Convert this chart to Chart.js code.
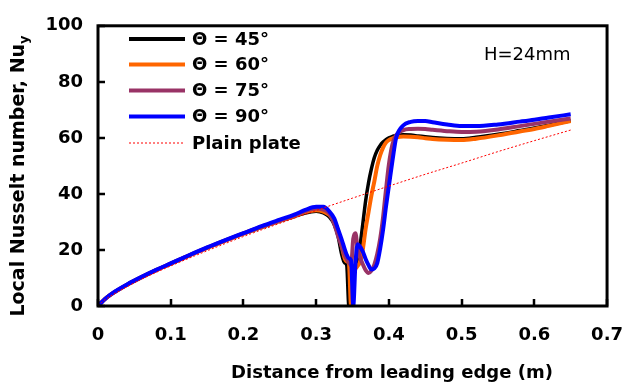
<!DOCTYPE html>
<html><head><meta charset="utf-8">
<script src="https://cdn.jsdelivr.net/npm/chart.js@4.4.1/dist/chart.umd.min.js"></script>
<style>html,body{margin:0;padding:0;background:#fff;}#wrap{width:642px;height:385px;position:relative;}</style>
</head><body>
<div id="wrap"><canvas id="c" width="642" height="385"></canvas></div>
<script>
// ---- data ----
const xTickValues = [0, 0.1, 0.2, 0.3, 0.4, 0.5, 0.6, 0.7];
const yTickValues = [0, 20, 40, 60, 80, 100];

const xGrid = [0, 0.01, 0.02, 0.04, 0.06, 0.08, 0.1, 0.125, 0.15, 0.175, 0.2, 0.225, 0.25, 0.27, 0.285,
  0.3, 0.31, 0.318, 0.325, 0.33, 0.335, 0.339, 0.342, 0.345, 0.348, 0.351, 0.354, 0.357, 0.36, 0.364,
  0.368, 0.372, 0.376, 0.38, 0.384, 0.388, 0.392, 0.396, 0.4, 0.405, 0.41, 0.42, 0.43, 0.44, 0.45,
  0.46, 0.48, 0.5, 0.52, 0.55, 0.58, 0.6, 0.62, 0.65];

const nu45 = [0, 2.6, 4.5, 7.6, 10.3, 12.8, 15.1, 18.0, 20.7, 23.3, 25.8, 28.1, 30.3, 31.9, 33.2,
  33.8, 33.2, 31.8, 29.0, 25.0, 18.5, 15.4, 14.6, 0, 12.0, 13.2, 14.6, 16.8, 21.0, 29.0,
  37.5, 44.0, 49.0, 53.0, 55.6, 57.3, 58.5, 59.4, 60.0, 60.5, 60.9, 61.1, 61.0, 60.7, 60.4,
  60.1, 59.8, 59.7, 60.2, 61.3, 62.6, 63.5, 64.5, 66.1];

const nu60 = [0, 2.6, 4.5, 7.6, 10.3, 12.8, 15.1, 18.0, 20.7, 23.3, 25.8, 28.2, 30.4, 32.1, 33.5,
  34.2, 33.7, 32.5, 30.0, 27.0, 21.5, 17.2, 15.9, 15.2, 0, 12.5, 13.4, 14.3, 15.5, 20.0,
  27.5, 33.5, 39.5, 44.5, 50.0, 53.8, 56.5, 58.3, 59.2, 59.8, 60.2, 60.5, 60.4, 60.2, 59.9,
  59.6, 59.3, 59.2, 59.7, 60.9, 62.3, 63.2, 64.3, 66.0];

const nu75 = [0, 2.6, 4.5, 7.6, 10.3, 12.8, 15.1, 18.0, 20.8, 23.4, 25.9, 28.3, 30.5, 32.3, 33.9,
  34.8, 34.4, 33.0, 29.2, 25.0, 21.4, 18.2, 16.7, 15.5, 14.5, 24.0, 26.0, 20.5, 17.5, 15.0,
  12.8, 11.8, 12.6, 14.8, 18.6, 24.0, 31.7, 41.5, 50.5, 57.8, 61.0, 62.8, 63.2, 63.3, 63.2,
  62.9, 62.4, 62.1, 62.2, 63.0, 64.2, 65.0, 65.8, 66.9];

const nu90 = [0, 2.6, 4.6, 7.7, 10.4, 12.9, 15.2, 18.1, 20.9, 23.5, 26.0, 28.5, 30.8, 32.6, 34.3,
  35.4, 35.4, 33.8, 31.2, 27.5, 23.8, 20.5, 18.3, 17.0, 16.3, 0, 15.0, 22.0, 21.3, 19.5,
  16.8, 14.6, 13.0, 13.4, 15.3, 20.5, 27.2, 35.4, 42.8, 52.0, 60.0, 64.5, 65.7, 66.0, 66.0,
  65.6, 64.8, 64.2, 64.2, 64.8, 65.8, 66.5, 67.3, 68.4];

const plainX  = [0, 0.005, 0.01, 0.02, 0.04, 0.06, 0.08, 0.1, 0.15, 0.2, 0.25, 0.3, 0.35, 0.4, 0.45, 0.5, 0.55, 0.6, 0.65];
const plainNu = [0, 1.3, 2.3, 4.0, 6.9, 9.6, 12.0, 14.3, 19.7, 24.8, 29.5, 34.1, 38.5, 42.8, 47.0, 51.0, 55.1, 59.0, 62.8];

const seriesLabels = ['\u0398 = 45\u00b0', '\u0398 = 60\u00b0', '\u0398 = 75\u00b0', '\u0398 = 90\u00b0', 'Plain plate'];
const annotation = 'H=24mm';
const xTitle = 'Distance from leading edge (m)';
const yTitleMain = 'Local Nusselt number, Nu';
const yTitleSub = 'y';

// ---- styles ----
const FONT = "'DejaVu Sans', sans-serif";
const colors = ['#000000', '#ff6600', '#993366', '#0000ff', '#ff0000'];
const widths = [3.5, 4, 4, 4, 1];

const pts = (xs, ys) => xs.map((v, i) => ({x: v, y: ys[i]}));
const curveSets = [nu45, nu60, nu75, nu90];

const datasets = curveSets.map((arr, i) => ({
  label: seriesLabels[i],
  data: pts(xGrid, arr),
  borderColor: colors[i],
  borderWidth: widths[i],
  pointRadius: 0,
  fill: false,
  cubicInterpolationMode: 'monotone',
  order: 5 - i
}));
datasets.push({
  label: seriesLabels[4],
  data: pts(plainX, plainNu),
  borderColor: colors[4],
  borderWidth: 1,
  borderDash: [2, 2],
  pointRadius: 0,
  fill: false,
  cubicInterpolationMode: 'monotone',
  order: 1
});

const decor = {
  id: 'decor',
  afterDatasetsDraw(chart) {
    const {ctx, chartArea: a, scales: {x, y}} = chart;
    ctx.save();
    ctx.strokeStyle = '#000';
    ctx.lineWidth = 2.5;
    ctx.beginPath();
    xTickValues.forEach(v => { const px = Math.round(x.getPixelForValue(v)); ctx.moveTo(px, a.bottom); ctx.lineTo(px, a.bottom - 7); });
    yTickValues.forEach(v => { const py = Math.round(y.getPixelForValue(v)); ctx.moveTo(a.left, py); ctx.lineTo(a.left + 7, py); });
    ctx.stroke();
    ctx.lineWidth = 3;
    ctx.lineJoin = 'miter';
    ctx.strokeRect(a.left, a.top, a.right - a.left, a.bottom - a.top);
    ctx.restore();
  },
  afterDraw(chart) {
    const ctx = chart.ctx;
    ctx.save();
    ctx.fillStyle = '#000';
    // legend
    const ly = [39, 64.5, 90.5, 116.5, 143];
    ly.forEach((yy, i) => {
      ctx.beginPath();
      ctx.strokeStyle = colors[i];
      ctx.lineWidth = i === 4 ? 1 : 4;
      ctx.setLineDash(i === 4 ? [2, 2] : []);
      ctx.moveTo(129, yy); ctx.lineTo(185, yy);
      ctx.stroke();
      ctx.setLineDash([]);
      ctx.font = 'bold 18px ' + FONT;
      ctx.textAlign = 'left';
      ctx.textBaseline = 'middle';
      ctx.fillText(seriesLabels[i], 192, yy + 1);
    });
    // annotation
    ctx.font = '18px ' + FONT;
    ctx.textBaseline = 'alphabetic';
    ctx.fillText(annotation, 484, 60);
    // x title
    ctx.font = 'bold 18px ' + FONT;
    ctx.textAlign = 'center';
    ctx.fillText(xTitle, 392, 378);
    // y title (rotated) with subscript
    ctx.translate(24, 176);
    ctx.rotate(-Math.PI / 2);
    ctx.font = 'bold 19px ' + FONT;
    const w1 = ctx.measureText(yTitleMain).width;
    ctx.font = 'bold 13px ' + FONT;
    const w2 = ctx.measureText(yTitleSub).width;
    const start = -(w1 + w2) / 2;
    ctx.textAlign = 'left';
    ctx.font = 'bold 19px ' + FONT;
    ctx.fillText(yTitleMain, start, 0);
    ctx.font = 'bold 13px ' + FONT;
    ctx.fillText(yTitleSub, start + w1, 4);
    ctx.restore();
  }
};

new Chart(document.getElementById('c'), {
  type: 'line',
  data: {datasets},
  options: {
    responsive: false,
    animation: false,
    devicePixelRatio: 1,
    layout: {padding: {left: 0, right: 31, top: 13, bottom: 0}},
    plugins: {legend: {display: false}, tooltip: {enabled: false}},
    scales: {
      x: {
        type: 'linear', min: 0, max: 0.7,
        afterBuildTicks: s => { s.ticks = xTickValues.map(v => ({value: v})); },
        afterFit: s => { s.height = 79; },
        grid: {display: false, drawTicks: false},
        border: {display: false},
        ticks: {font: {family: FONT, size: 18, weight: 'bold'}, color: '#000', padding: 19, maxRotation: 0, autoSkip: false}
      },
      y: {
        type: 'linear', min: 0, max: 100,
        afterBuildTicks: s => { s.ticks = yTickValues.map(v => ({value: v})); },
        afterFit: s => { s.width = 98; },
        grid: {display: false, drawTicks: false},
        border: {display: false},
        ticks: {font: {family: FONT, size: 18, weight: 'bold'}, color: '#000', padding: 15}
      }
    }
  },
  plugins: [decor]
});
</script>
</body></html>
